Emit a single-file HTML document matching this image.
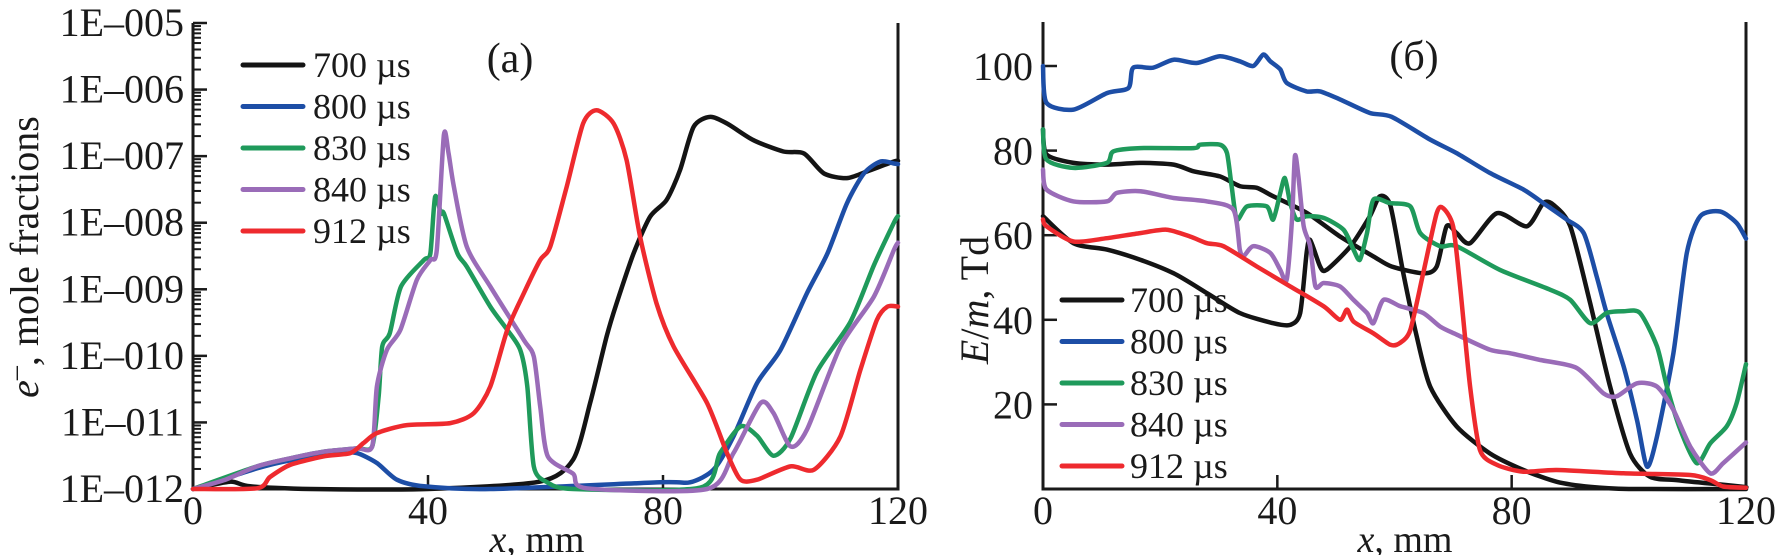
<!DOCTYPE html>
<html><head><meta charset="utf-8"><style>
html,body{margin:0;padding:0;background:#fff;}
svg{display:block;font-family:"Liberation Serif",serif;}
</style></head><body>
<svg id="fig" width="1780" height="555" viewBox="0 0 1780 555" xmlns="http://www.w3.org/2000/svg">
<g id="left"></g>
<g id="right"></g>
</svg>
<script>
// ---- Chart (a): electron mole fractions (log10 values) ----
const aX700=[0,6.3,9.7,20,40,59,64.7,67.6,70.4,72.1,75,77.8,80.6,82.9,85.2,88,90.9,95.4,100.5,104,107.4,111.3,114.7,119.3,120];
const aY700=[-12,-11.89,-11.96,-12,-12,-11.89,-11.56,-10.71,-9.71,-9.21,-8.46,-7.91,-7.66,-7.21,-6.56,-6.41,-6.51,-6.76,-6.93,-6.96,-7.26,-7.33,-7.23,-7.08,-7.07];
const aX800=[0,10.9,16.5,25,27.9,31.3,34.7,39.3,50.6,79.5,84.6,88.6,92,96,100,104.5,108,111.3,114.2,117,119.3,120];
const aY800=[-12,-11.69,-11.57,-11.46,-11.46,-11.61,-11.86,-11.96,-12,-11.9,-11.9,-11.71,-11.21,-10.41,-9.91,-9.06,-8.46,-7.71,-7.26,-7.08,-7.11,-7.12];
const aX830=[0,10.9,16.5,22.2,27.9,30.5,31.6,32.2,33.5,35.4,39.3,40.4,41.2,42.2,42.7,45,46.6,50.6,53.5,55.7,56.9,58,60.3,64.7,86.3,89.7,93.2,96,98.8,101.7,106.2,111.9,115.9,119.3,120];
const aY830=[-12,-11.66,-11.54,-11.44,-11.39,-11.36,-10.6,-9.86,-9.66,-8.96,-8.56,-8.46,-7.61,-7.86,-7.86,-8.46,-8.66,-9.26,-9.61,-9.91,-10.46,-11.66,-11.9,-12,-11.98,-11.46,-11.06,-11.2,-11.5,-11.24,-10.24,-9.49,-8.64,-8,-7.9];
const aX840=[0,5.2,10.9,16.5,22.2,27.9,30.5,31.3,33,35.3,38.1,40.4,41.5,42.7,43.5,44.4,46.6,50.6,56.3,58,59.1,60.4,64.7,67,87.5,92,96.6,98.8,101.7,104.5,110.2,115.9,119.3,120];
const aY840=[-12,-11.87,-11.66,-11.54,-11.44,-11.39,-11.36,-10.46,-9.91,-9.61,-8.86,-8.56,-8.41,-6.68,-6.96,-7.46,-8.36,-8.96,-9.76,-10.01,-10.76,-11.51,-11.77,-11.99,-12,-11.46,-10.71,-10.86,-11.36,-11.11,-9.86,-9.11,-8.41,-8.3];
const aX912=[0,10.9,13.1,16.5,22.2,26.8,29,31.3,36.4,43.8,47.8,50.6,53.5,56.3,59.1,60.8,63.6,66.4,68.7,71.6,73.8,76.1,78.9,81.8,87.5,90.9,93.2,96,101.7,105.7,110.2,113.6,116.4,118.2,120];
const aY912=[-12,-11.99,-11.82,-11.64,-11.51,-11.46,-11.31,-11.16,-11.04,-11.01,-10.86,-10.46,-9.61,-9.06,-8.56,-8.36,-7.46,-6.51,-6.31,-6.51,-7.06,-8.21,-9.21,-9.86,-10.71,-11.46,-11.86,-11.86,-11.66,-11.71,-11.21,-10.21,-9.46,-9.26,-9.26];
const aYTicks=[-12,-11,-10,-9,-8,-7,-6,-5];
const aYTickLabels=["1E\u2013012","1E\u2013011","1E\u2013010","1E\u2013009","1E\u2013008","1E\u2013007","1E\u2013006","1E\u2013005"];
const xTicks=[0,40,80,120];
const legendLabels=["700 \u00b5s","800 \u00b5s","830 \u00b5s","840 \u00b5s","912 \u00b5s"];

// ---- Chart (б): E/m, Td ----
const bX700=[0,0.6,5.2,10.9,16.6,22.3,25.7,30.2,33.6,36.5,39.3,45,50.7,56.4,59.5,64.9,67.2,68.9,70.6,72.9,77.5,82.6,85.4,87.1,90,93.4,96.8,100.2,103.6,108.2,113.9,119.6,120];
const bY700=[85,79.1,77.1,76.7,77.1,76.7,75.1,73.9,71.6,71.2,69.2,65.3,59.7,55,52.6,51,52.6,62.1,60.5,58.1,65.2,62.1,67.6,67.2,62.1,43.9,24.2,8.4,2.9,2.1,1.3,0.5,0.4];
const bX700b=[0,5.2,10.9,16.6,22.3,28,33.6,39.3,42.2,43.9,45,45.6,47.3,48.4,52.5,55.8,57.5,59.3,61.5,63.8,66.1,70.6,76.3,82,87.7,93.4,100,120];
const bY700b=[64.5,58.1,56.6,54.2,51,46.3,41.6,39.2,38.8,41.6,55.8,58.9,52.6,51.8,57.4,64.5,69.2,67,51,36,24.2,14.8,8.4,4.5,1.7,0.5,0,0];
const bX800=[0,0.6,5.2,10.9,14.6,15.4,18.8,22.3,26.2,30.2,33.6,35.9,37.6,38.8,40.5,41.6,45,47.3,50.7,55.8,59.5,66.1,70.6,76.3,82,85.4,89.4,92.3,94.5,96.2,99.1,101.4,103.1,104.8,107.6,109.9,112.2,115.6,118.4,120];
const bY800=[100,91.3,89.7,93.6,94.8,99.6,99.6,101.5,100.7,102.3,101.1,100,102.7,101.1,99.2,96,94,94,92.1,88.9,88,82.6,79.4,74.7,70.8,67.6,63.7,60.5,50.3,41.6,29,16.3,5.3,12.4,32.1,55.8,64.5,65.6,62.9,59.2];
const bX830=[0,0.6,5.2,10.9,12,16.6,25.7,26.8,30.2,31.4,32.2,33.1,34.8,38.2,39.3,40.5,41.3,42.2,43.3,45,47.9,51.3,53,54.1,55.3,56.4,59.2,62.7,64.4,67.8,70.6,78,86.6,90,93.4,96.2,99.1,101.9,104.8,106.5,108.8,111.6,113.9,116.7,118.4,120];
const bY830=[85,77.9,75.9,77.1,79.8,80.6,80.6,81.4,81.4,79.4,71.6,63.7,66.8,66.8,63.7,70,73.5,67.6,63.7,64.5,64.1,61.3,56.6,54.2,60.5,68.4,67.6,66.8,60.5,57.4,57.4,51.8,47.1,44.7,39.2,41.6,42,41.6,33.7,24.2,14,6.1,10.8,14.8,20.3,29.5];
const bX840=[0,0.6,5.2,10.9,12.6,16.6,22.3,28,32.5,33.6,34.2,35.9,38.8,40.5,41.6,42.5,43,43.6,44.5,45.6,46.5,47.9,50.7,53,55.3,56.4,58.1,61,64.9,67.8,70.6,76.3,79.7,84.9,91.1,95.7,97.9,101.4,104.8,107.6,110.5,113.9,116.1,120];
const bY840=[75.5,70.8,68,68,70,70.4,68.8,68,66,56.6,55,57.4,55.8,51.8,49.5,63.7,78.7,73.9,62.1,57.4,47.9,48.7,47.9,44.7,41.6,39.2,44.7,43.2,41.6,38.4,36.5,32.9,32.1,30.5,28.6,22.6,21.9,25,24.2,18.7,10,3.7,6.1,11];
const bX912=[0,0.6,5.2,10.9,16.6,21.1,25.1,28,30.8,36.5,42.2,47.9,50.7,51.9,53,56.4,59.3,60.9,62.7,64.9,67.2,68.3,70,71.2,72.9,74.6,77.5,82,87.7,99.1,110.5,113.9,116.1,120];
const bY912=[63.7,62.1,58.5,59.3,60.5,61.3,59.7,58.1,57.4,52.6,47.9,43.2,40,42.4,39.6,36.8,34.1,34.5,37.6,51,65.2,66.4,62.1,47.9,24.2,9.2,5.7,4.1,4.5,3.7,3.3,2.1,0.6,0.3];
const bYTicks=[20,40,60,80,100];

const colors=["#141414","#1d4ea6","#1f9a5b","#9a6cb8","#ee2a2e"];
const NS="http://www.w3.org/2000/svg";
function mk(parent,tag,attrs,text){const e=document.createElementNS(NS,tag);for(const k in attrs)e.setAttribute(k,attrs[k]);if(text!==undefined)e.textContent=text;parent.appendChild(e);return e;}

// axis functions
const aL=193,aR=898,aTop=23,aBot=489;
const ax=v=>aL+(v/120)*(aR-aL);
const ay=v=>aBot-(v+12)/7*(aBot-aTop);
const bL=1043,bR=1746,bBot=489;
const bx=v=>bL+(v/120)*(bR-bL);
const by=v=>bBot-(v/100)*(bBot-66);

// smooth path (Catmull-Rom -> cubic Bezier, reduced tension)
function pathFrom(xs,ys,fx,fy){
 const p=xs.map((x,i)=>[fx(x),fy(ys[i])]);
 const k=1/8;
 let d="M"+p[0][0].toFixed(1)+" "+p[0][1].toFixed(1);
 for(let i=0;i<p.length-1;i++){
  const p0=p[Math.max(0,i-1)],p1=p[i],p2=p[i+1],p3=p[Math.min(p.length-1,i+2)];
  const c1=[p1[0]+(p2[0]-p0[0])*k,p1[1]+(p2[1]-p0[1])*k];
  const c2=[p2[0]-(p3[0]-p1[0])*k,p2[1]-(p3[1]-p1[1])*k];
  d+=` C${c1[0].toFixed(1)} ${c1[1].toFixed(1)} ${c2[0].toFixed(1)} ${c2[1].toFixed(1)} ${p2[0].toFixed(1)} ${p2[1].toFixed(1)}`;
 }
 return d;
}

const L=document.getElementById('left'), R=document.getElementById('right');

// ---- Left axes ----
let e;
e=mk(L,'path',{d:`M${aL} ${aTop}V${aBot}H${aR}V${aTop}`,fill:'none',stroke:'#1a1a1a','stroke-width':3});


for(let d=-12;d<-5;d++){for(let m=2;m<=9;m++){const y=ay(d+Math.log10(m));
 e=mk(L,'line',{x1:aL,x2:aL+8,y1:y,y2:y,stroke:'#1a1a1a','stroke-width':2});
 
 }}
aYTicks.forEach((t,i)=>{const y=ay(t);
 e=mk(L,'line',{x1:aL,x2:aL+14,y1:y,y2:y,stroke:'#1a1a1a','stroke-width':2.5});
 
 
 e=mk(L,'text',{x:184,y:y+13,'text-anchor':'end','font-size':40,fill:'#1a1a1a'},aYTickLabels[i]);
 
 });
xTicks.forEach(t=>{const x=ax(t);
 if(t>0&&t<120){e=mk(L,'line',{x1:x,x2:x,y1:aBot,y2:aBot-14,stroke:'#1a1a1a','stroke-width':2.5});
 
 }
 e=mk(L,'text',{x:x,y:524,'text-anchor':'middle','font-size':40,fill:'#1a1a1a'},String(t));
 
 });
e=mk(L,'text',{x:537,y:552,'text-anchor':'middle','font-size':38,fill:'#1a1a1a'});


e.innerHTML='<tspan font-style="italic">x</tspan>, mm';
e=mk(L,'text',{x:0,y:0,transform:'translate(38,257) rotate(-90)','text-anchor':'middle','font-size':40,fill:'#1a1a1a'});


e.innerHTML='<tspan font-style="italic">e</tspan><tspan dy="-14" font-size="28">\u2013</tspan><tspan dy="14">, mole fractions</tspan>';
e=mk(L,'text',{x:510,y:72,'text-anchor':'middle','font-size':42,fill:'#1a1a1a'},'(a)');



const aSeries=[[aX700,aY700],[aX800,aY800],[aX830,aY830],[aX840,aY840],[aX912,aY912]];
const sNames=['series-700us','series-800us','series-830us','series-840us','series-912us'];
aSeries.forEach((s,i)=>{
 e=mk(L,'path',{d:pathFrom(s[0],s[1],ax,ay),fill:'none',stroke:colors[i],'stroke-width':4.5,'stroke-linejoin':'round','stroke-linecap':'round'});
 
 });
legendLabels.forEach((lab,i)=>{const y=65+i*41.5;
 e=mk(L,'line',{x1:243,x2:303,y1:y,y2:y,stroke:colors[i],'stroke-width':5,'stroke-linecap':'round'});
 
 
 e=mk(L,'text',{x:313,y:y+12,'font-size':36,fill:'#1a1a1a'},lab);
 
 });

// ---- Right axes ----
e=mk(R,'path',{d:`M${bL} 22V${bBot}H${bR}V22`,fill:'none',stroke:'#1a1a1a','stroke-width':3});


bYTicks.forEach(t=>{const y=by(t);
 e=mk(R,'line',{x1:bL,x2:bL+14,y1:y,y2:y,stroke:'#1a1a1a','stroke-width':2.5});
 
 
 e=mk(R,'text',{x:1033,y:y+14,'text-anchor':'end','font-size':40,fill:'#1a1a1a'},String(t));
 
 });
xTicks.forEach(t=>{const x=bx(t);
 if(t>0&&t<120){e=mk(R,'line',{x1:x,x2:x,y1:bBot,y2:bBot-14,stroke:'#1a1a1a','stroke-width':2.5});
 
 }
 e=mk(R,'text',{x:x,y:524,'text-anchor':'middle','font-size':40,fill:'#1a1a1a'},String(t));
 
 });
e=mk(R,'text',{x:1405,y:552,'text-anchor':'middle','font-size':38,fill:'#1a1a1a'});


e.innerHTML='<tspan font-style="italic">x</tspan>, mm';
e=mk(R,'text',{x:0,y:0,transform:'translate(988,300) rotate(-90)','text-anchor':'middle','font-size':40,fill:'#1a1a1a'});


e.innerHTML='<tspan font-style="italic">E</tspan>/<tspan font-style="italic">m</tspan>, Td';
e=mk(R,'text',{x:1414,y:70,'text-anchor':'middle','font-size':42,fill:'#1a1a1a'},'(\u0431)');



const bSeries=[[bX700,bY700,0],[bX700b,bY700b,0],[bX800,bY800,1],[bX830,bY830,2],[bX840,bY840,3],[bX912,bY912,4]];
const bNames=['series-700us','series-700us-2','series-800us','series-830us','series-840us','series-912us'];
bSeries.forEach((s,i)=>{
 e=mk(R,'path',{d:pathFrom(s[0],s[1],bx,by),fill:'none',stroke:colors[s[2]],'stroke-width':4.5,'stroke-linejoin':'round','stroke-linecap':'round'});
 
 });
legendLabels.forEach((lab,i)=>{const y=300+i*41.5;
 e=mk(R,'line',{x1:1062,x2:1122,y1:y,y2:y,stroke:colors[i],'stroke-width':5,'stroke-linecap':'round'});
 
 
 e=mk(R,'text',{x:1130,y:y+12,'font-size':36,fill:'#1a1a1a'},lab);
 
 });
</script>
</body></html>
